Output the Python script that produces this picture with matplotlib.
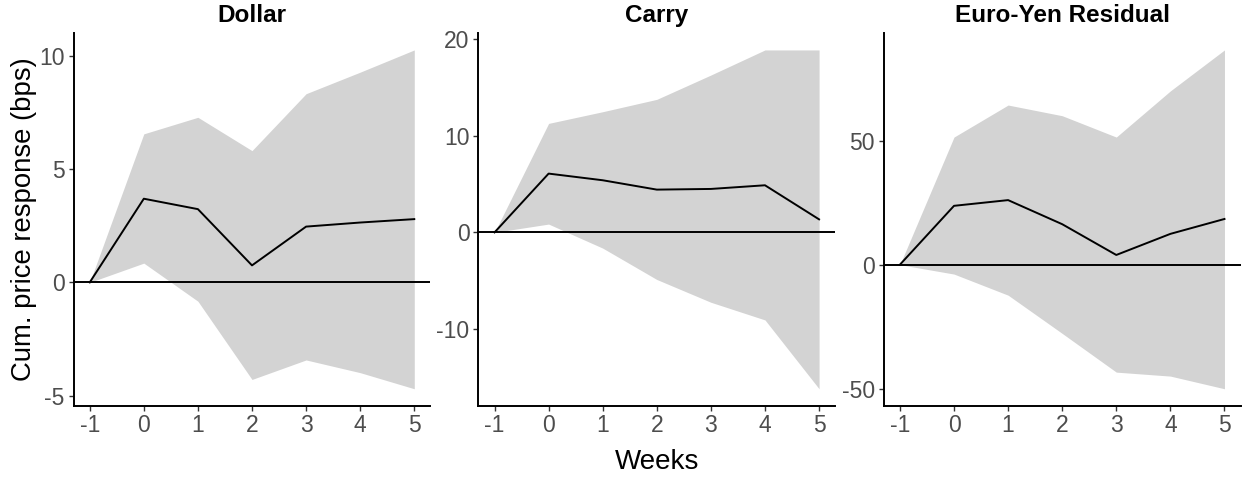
import matplotlib
matplotlib.use("Agg")
import matplotlib.pyplot as plt

plt.rcParams['font.family'] = ['Liberation Sans', 'DejaVu Sans']
plt.rcParams['axes.unicode_minus'] = False

weeks = [-1, 0, 1, 2, 3, 4, 5]
titles = ["Dollar", "Carry", "Euro-Yen Residual"]

dollar_mean = [0, 3.69, 3.23, 0.75, 2.46, 2.64, 2.79]
dollar_upper = [0, 6.55, 7.28, 5.81, 8.32, 9.27, 10.25]
dollar_lower = [0, 0.85, -0.83, -4.28, -3.42, -3.98, -4.69]

carry_mean = [0, 6.09, 5.40, 4.43, 4.50, 4.88, 1.35]
carry_upper = [0, 11.29, 12.5, 13.78, 16.3, 18.9, 18.9]
carry_lower = [0, 0.86, -1.63, -4.88, -7.24, -9.07, -16.2]

ey_mean = [0, 23.7, 26.0, 16.3, 3.9, 12.4, 18.4]
ey_upper = [0, 51.4, 64.3, 60.0, 51.4, 70.0, 86.5]
ey_lower = [0, -3.8, -12.3, -27.7, -43.3, -44.9, -50.0]

yticks = [[-5, 0, 5, 10], [-10, 0, 10, 20], [-50, 0, 50]]

series = [(dollar_mean, dollar_upper, dollar_lower),
          (carry_mean, carry_upper, carry_lower),
          (ey_mean, ey_upper, ey_lower)]

W, H = 1247, 478
fig = plt.figure(figsize=(W / 100, H / 100), dpi=100)

lefts = [73.5, 478.3, 883.7]
aw = 357
top_px, bot_px = 33, 405.7

for i, (m, u, l) in enumerate(series):
    ax = fig.add_axes([lefts[i] / W, 1 - bot_px / H, aw / W, (bot_px - top_px) / H])
    ax.fill_between(weeks, l, u, color='#D3D3D3', linewidth=0, zorder=1)
    ax.axhline(0, color='black', linewidth=1.4, zorder=2)
    ax.plot(weeks, m, color='black', linewidth=1.4, zorder=3)
    ymin = min(l); ymax = max(u)
    r = ymax - ymin
    ax.set_ylim(ymin - 0.05 * r, ymax + 0.05 * r)
    ax.set_xlim(-1.3, 5.3)
    ax.set_xticks(weeks)
    ax.set_xticklabels([str(w) for w in weeks])
    ax.set_yticks(yticks[i])
    ax.set_yticklabels([str(t) for t in yticks[i]])
    for s in ['top', 'right']:
        ax.spines[s].set_visible(False)
    for s in ['left', 'bottom']:
        ax.spines[s].set_linewidth(1.4)
        ax.spines[s].set_color('black')
    ax.tick_params(axis='both', length=3.3, width=1.0, color='#333333',
                   labelcolor='#4D4D4D', labelsize=16.5, pad=3)
    ax.set_title(titles[i], fontsize=17.5, fontweight='bold', pad=8)
    if i == 0:
        ax.set_ylabel("Cum. price response (bps)", fontsize=19.8, labelpad=1.5)

fig.text(657 / W, 1 - 462 / H, "Weeks", fontsize=20, ha='center', va='center')

fig.savefig("out.png", dpi=100)
